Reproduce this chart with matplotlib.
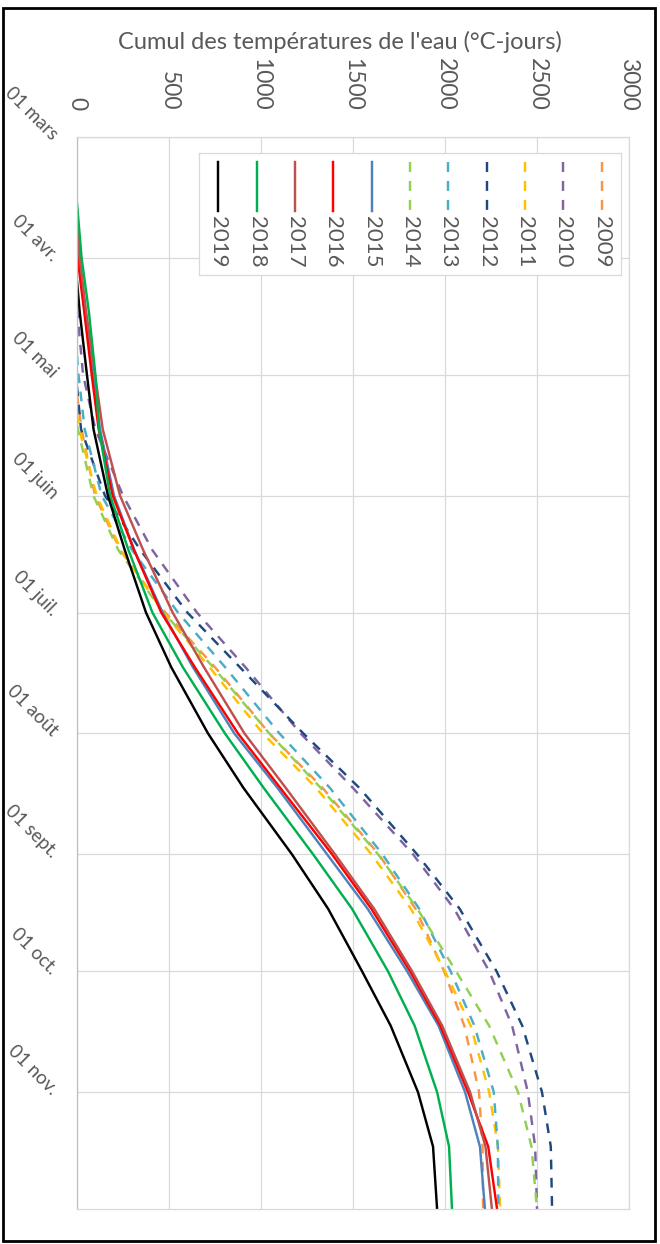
import matplotlib
matplotlib.use("Agg")
import matplotlib.pyplot as plt
import pandas as pd
from matplotlib.patches import Rectangle

plt.rcParams['font.family'] = ['Lato', 'DejaVu Sans']

# Water temperature sums (°C-days), read at these dates of each year
dates = ["04-01", "04-15", "05-01", "05-15", "06-01", "06-15", "07-01", "07-15",
         "08-01", "08-15", "09-01", "09-15", "10-01", "10-15", "11-01", "11-15", "12-01"]

years = ["2019", "2018", "2017", "2016", "2015", "2014", "2013", "2012", "2011", "2010", "2009"]
starts = ["04-07", "03-18", "03-22", "03-31", "03-28", "05-14", "04-26", "05-04", "05-11", "04-14", "05-06"]

v2019 = [None, 15, 54, 90, 168, 260, 375, 512, 712, 905, 1168, 1365, 1549, 1705, 1853, 1935, 1957]
v2018 = [25, 65, 100, 120, 180, 280, 410, 575, 804, 1015, 1283, 1495, 1690, 1835, 1957, 2022, 2038]
v2017 = [15, 50, 98, 140, 234, 360, 520, 690, 910, 1135, 1402, 1615, 1821, 1985, 2136, 2220, 2255]
v2016 = [None, 40, 80, 118, 194, 310, 458, 640, 875, 1105, 1386, 1600, 1810, 1975, 2125, 2235, 2283]
v2015 = [8, 42, 87, 125, 201, 312, 465, 630, 855, 1090, 1359, 1580, 1794, 1965, 2109, 2190, 2217]
v2014 = [None, None, None, 5, 89, 225, 470, 740, 1045, 1325, 1636, 1850, 2060, 2240, 2397, 2470, 2500]
v2013 = [None, None, 8, 42, 134, 300, 549, 805, 1100, 1375, 1660, 1860, 2030, 2160, 2265, 2287, 2290]
v2012 = [None, None, None, 22, 152, 345, 600, 885, 1230, 1535, 1848, 2080, 2280, 2420, 2527, 2575, 2582]
v2011 = [None, None, None, 12, 107, 240, 470, 720, 1010, 1300, 1600, 1815, 2000, 2140, 2240, 2288, 2299]
v2010 = [None, 2, 33, 100, 250, 410, 652, 915, 1215, 1500, 1826, 2050, 2240, 2365, 2450, 2490, 2500]
v2009 = [None, None, None, 25, 98, 235, 480, 750, 1045, 1335, 1640, 1840, 1995, 2105, 2185, 2204, 2207]

values = [v2019, v2018, v2017, v2016, v2015, v2014, v2013, v2012, v2011, v2010, v2009]
colors = ["#000000", "#00B050", "#C0504D", "#FF0000", "#4F81BD",
          "#92D050", "#4BACC6", "#1F497D", "#FFC000", "#8064A2", "#F79646"]
dashed = [False] * 5 + [True] * 6

month_ticks = ["03-01", "04-01", "05-01", "06-01", "07-01", "08-01", "09-01", "10-01", "11-01"]
month_labels = ["01 mars", "01 avr.", "01 mai", "01 juin", "01 juil.", "01 août",
                "01 sept.", "01 oct.", "01 nov."]


def to_date(md):
    return pd.Timestamp("2019-" + md)


grey = "#595959"
W, H = 660, 1244
fig = plt.figure(figsize=(W / 100, H / 100), dpi=100)
ax = fig.add_axes([77 / W, 1 - 1209 / H, (629 - 77) / W, (1209 - 137) / H])

# draw oldest first so the recent years sit on top
for i in reversed(range(len(years))):
    d = [to_date(starts[i])]
    v = [0]
    for md, val in zip(dates, values[i]):
        if val is not None:
            d.append(to_date(md))
            v.append(val)
    kw = dict(color=colors[i], lw=1.75)
    if dashed[i]:
        kw["dashes"] = (4, 3.5)
    ax.plot(v, d, **kw)

ax.set_xlim(0, 3000)
ax.set_ylim(to_date("12-01"), to_date("03-01"))
ax.set_xticks(range(0, 3001, 500))
ax.xaxis.tick_top()
ax.tick_params(axis="x", length=0, pad=19, labelsize=16.5, labelcolor=grey, labelrotation=-90)
for lab in ax.get_xticklabels():
    lab.set_va("bottom")
ax.set_yticks([to_date(m) for m in month_ticks])
ax.set_yticklabels(month_labels)
ax.tick_params(axis="y", length=0, pad=16, labelsize=13.5, labelcolor=grey)
for lab in ax.get_yticklabels():
    lab.set_rotation(-45)
    lab.set_rotation_mode("anchor")
    lab.set_ha("right")
    lab.set_va("center")
ax.grid(True, color="#d9d9d9", lw=0.9)
ax.set_axisbelow(True)
for s in ax.spines.values():
    s.set_color("#d9d9d9")
    s.set_linewidth(0.9)
ax.spines["left"].set_color("#bfbfbf")

fig.text(340 / W, 1 - 42 / H, "Cumul des températures de l'eau (°C-jours)",
         ha="center", va="center", fontsize=17, color=grey)

# legend laid out as in the rotated Excel chart
lg = fig.add_axes([199 / W, 1 - 275 / H, 422 / W, 122 / H])
lg.set_xlim(0, len(years))
lg.set_ylim(122, 0)
lg.set_xticks([])
lg.set_yticks([])
lg.set_facecolor("white")
for s in lg.spines.values():
    s.set_color("#d9d9d9")
    s.set_linewidth(0.9)
for i, yr in enumerate(years):
    kw = dict(color=colors[i], lw=1.75)
    if dashed[i]:
        kw["dashes"] = (4.1, 3.7)
    lg.plot([i + 0.5, i + 0.5], [9, 58], **kw)
    lg.text(i + 0.5, 63, yr, rotation=-90, ha="center", va="top", fontsize=16, color=grey)

fig.patches.append(Rectangle((3 / W, 1 - 1241 / H), 652 / W, 1233 / H, transform=fig.transFigure,
                             fill=False, ec="black", lw=2))

fig.savefig("out.png", dpi=100)
